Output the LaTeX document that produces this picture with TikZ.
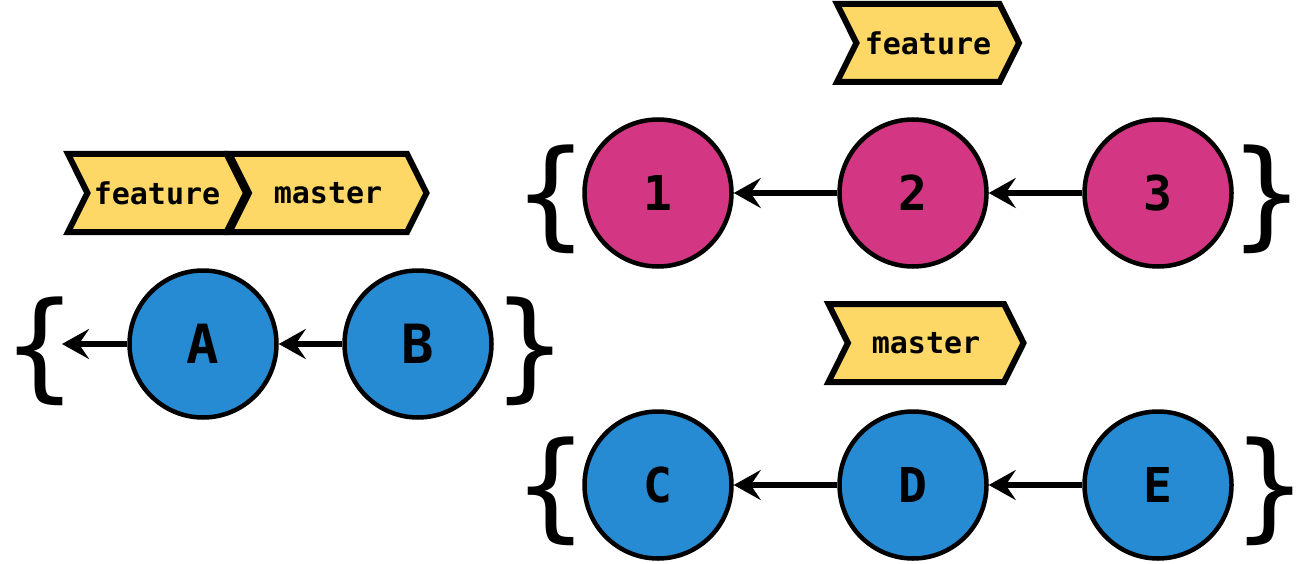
\documentclass[tikz,border=0pt]{standalone}
\usepackage{fontspec}
\setmonofont{DejaVu Sans Mono}
\usepackage{tikz}
\usepackage{xcolor}
\usetikzlibrary{shapes.symbols, arrows.meta, positioning}
\definecolor{commitblue}{HTML}{268BD2}
\definecolor{commitmagenta}{HTML}{D33682}
\definecolor{tagyellow}{HTML}{FDD866}

\begin{document}
\begin{tikzpicture}[
  x=1pt, y=-1pt,
  commit/.style={circle, draw=black, line width=4.5pt, minimum size=147pt, inner sep=0pt, font=\fontsize{48}{48}\selectfont\ttfamily\bfseries},
  bluecommit/.style={commit, fill=commitblue},
  pinkcommit/.style={commit, fill=commitmagenta},
  branchtag/.style={signal, signal to=east, signal from=west, signal pointer angle=127, draw=black, line width=6pt, fill=tagyellow, minimum height=78pt, inner sep=0pt, font=\fontsize{30}{30}\selectfont\ttfamily\bfseries},
  brace/.style={inner sep=0pt, font=\fontsize{118}{118}\selectfont\ttfamily},
  arrow/.style={-{Stealth[length=27pt, width=30pt, inset=10pt]}, line width=5.5pt}
]
  \useasboundingbox (0,0) rectangle (1305,564);

  % Before: both branches on B
  \node[bluecommit, font=\fontsize{54}{54}\selectfont\ttfamily\bfseries] (A) at (203,344) {A};
  \node[bluecommit, font=\fontsize{54}{54}\selectfont\ttfamily\bfseries, right=63.5pt of A] (B) {B};
  \coordinate (Atail) at (62,344);
  \node[brace] (openAB) at (40,351) {\{};
  \node[brace] (closeAB) at (530,351) {\}};

  \node[branchtag, minimum width=178pt] (featureAB) at (157,193) {feature};
  \node[branchtag, minimum width=197pt] (masterAB) at (328,193) {master};

  % After: feature branch
  \node[pinkcommit] (one) at (658,193) {1};
  \node[pinkcommit, right=103.5pt of one] (two) {2};
  \node[pinkcommit, right=93.5pt of two] (three) {3};
  \node[brace] (openfeat) at (551,199) {\{};
  \node[brace] (closefeat) at (1267,199) {\}};
  \node[branchtag, minimum width=182pt] (featuretag) at (928,43) {feature};

  % After: master branch
  \node[bluecommit, below=140.5pt of one] (C) {C};
  \node[bluecommit, right=103.5pt of C] (D) {D};
  \node[bluecommit, right=93.5pt of D] (E) {E};
  \node[brace] (openmast) at (551,491) {\{};
  \node[brace] (closemast) at (1270,491) {\}};
  \node[branchtag, minimum width=195pt] (mastertag) at (926,343) {master};

  % Arrows
  \draw[arrow] (B) -- (A);
  \draw[arrow] (A) -- (Atail);
  \draw[arrow] (three) -- (two);
  \draw[arrow] (two) -- (one);
  \draw[arrow] (E) -- (D);
  \draw[arrow] (D) -- (C);
\end{tikzpicture}
\end{document}
